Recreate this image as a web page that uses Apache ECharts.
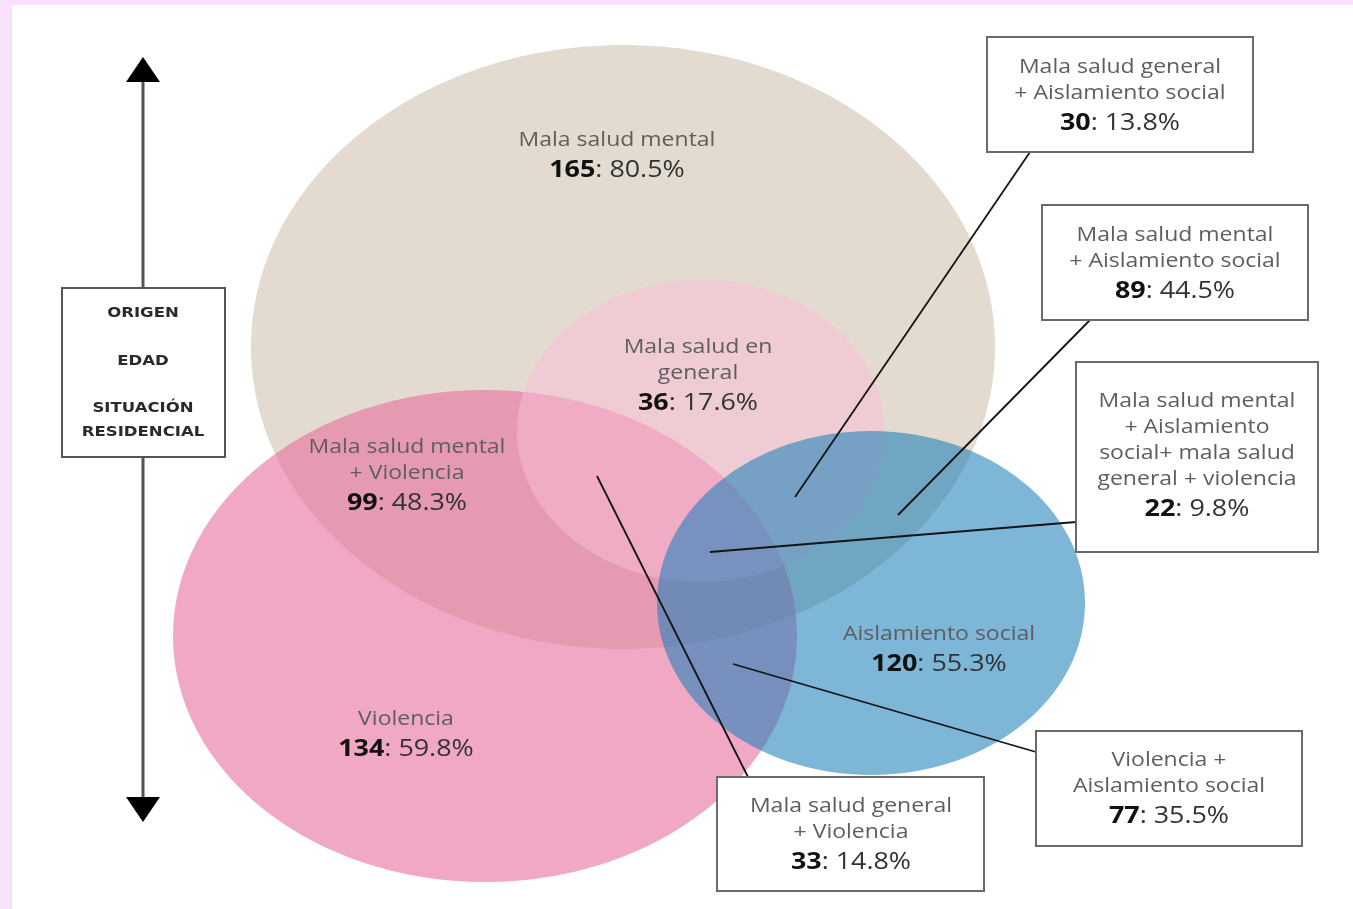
<!DOCTYPE html>
<html>
<head>
<meta charset="utf-8">
<title>Venn salud</title>
<script src="https://cdn.jsdelivr.net/npm/echarts@6/dist/echarts.min.js"></script>
<style>
  html, body { margin: 0; padding: 0; background: #f8e2fb; }
  #chart { width: 1353px; height: 909px; }
</style>
</head>
<body>
<div id="chart"></div>
<script>
// ---- datos ----
const setNames = ['Mala salud mental', 'Violencia', 'Mala salud en\ngeneral', 'Aislamiento social']
const setCounts = [165, 134, 36, 120]
const setPcts = ['80.5', '59.8', '17.6', '55.3']

const overlapNames = [
  'Mala salud mental\n+ Violencia',
  'Mala salud general\n+ Aislamiento social',
  'Mala salud mental\n+ Aislamiento social',
  'Mala salud mental\n+ Aislamiento\nsocial+ mala salud\ngeneral + violencia',
  'Violencia +\nAislamiento social',
  'Mala salud general\n+ Violencia'
]
const overlapCounts = [99, 30, 89, 22, 77, 33]
const overlapPcts = ['48.3', '13.8', '44.5', '9.8', '35.5', '14.8']

const factorLabels = ['ORIGEN', 'EDAD', 'SITUACIÓN\nRESIDENCIAL']

// ---- layout (coordenadas del lienzo, aparte de los datos) ----
// orden de dibujo: mental, violencia, general, aislamiento
const ellipsePos = [[623, 347, 372, 302], [485, 636, 312, 246], [701, 431, 184, 151], [871, 603, 214, 172]]
const ellipseColors = ['#e3dbd0', 'rgba(230,110,158,0.6)', 'rgba(251,189,216,0.5)', 'rgba(27,127,185,0.57)']
const setLabelPos = [[617, 140], [406, 719], [698, 347], [939, 634]]
const overlapLabelPos = [[407, 447], [1120, 67], [1175, 235], [1197, 401], [1169, 760], [851, 806]]
const overlapBoxes = [null, [987, 37, 1253, 152], [1042, 205, 1308, 320], [1076, 362, 1318, 552], [1036, 731, 1302, 846], [717, 777, 984, 891]]
const leaders = [null, [1030, 152, 795, 497], [1090, 320, 898, 515], [1076, 522, 710, 552], [1036, 752, 733, 664], [748, 777, 597, 476]]
const factorBox = [62, 288, 225, 457]
const factorLabelY = [313, 361, 408]

const FONT = '"Open Sans", sans-serif'

function labelChildren(api, pos, name, count, pct) {
  const lines = name.split('\n')
  const out = []
  lines.forEach((ln, k) => {
    const c = api.coord([pos[0], pos[1] + k * 26])
    out.push({
      type: 'text', x: c[0], y: c[1], scaleX: 1.15,
      style: { text: ln, fill: '#5e5e5e', fontSize: 20, fontFamily: FONT, align: 'center', verticalAlign: 'middle' }
    })
  })
  const c = api.coord([pos[0], pos[1] + (lines.length - 1) * 26 + 30])
  out.push({
    type: 'text', x: c[0], y: c[1], scaleX: 1.12,
    style: {
      text: '{b|' + count + '}: ' + pct + '%', fill: '#333', fontSize: 24, fontFamily: FONT,
      align: 'center', verticalAlign: 'middle',
      rich: { b: { fontWeight: 'bold', fill: '#111', fontSize: 24, fontFamily: FONT } }
    }
  })
  return out
}

const chart = echarts.init(document.getElementById('chart'))

chart.setOption({
  animation: false,
  grid: { left: 0, right: 0, top: 0, bottom: 0 },
  xAxis: { type: 'value', min: 0, max: 1353, show: false },
  yAxis: { type: 'value', min: 0, max: 909, inverse: true, show: false },
  graphic: [{
    type: 'rect', z: 0, silent: true,
    shape: { x: 12, y: 5, width: 1341, height: 904 },
    style: { fill: '#ffffff' }
  }],
  series: [
    {
      // círculos
      type: 'custom', z: 2,
      data: setCounts,
      renderItem(params, api) {
        const p = ellipsePos[params.dataIndex]
        const c = api.coord([p[0], p[1]])
        const s = api.size([p[2], p[3]])
        return {
          type: 'ellipse',
          shape: { cx: c[0], cy: c[1], rx: s[0], ry: s[1] },
          style: { fill: ellipseColors[params.dataIndex] }
        }
      }
    },
    {
      // etiquetas dentro de los círculos
      type: 'custom', z: 4,
      data: setCounts,
      renderItem(params, api) {
        const i = params.dataIndex
        return { type: 'group', children: labelChildren(api, setLabelPos[i], setNames[i], setCounts[i], setPcts[i]) }
      }
    },
    {
      // intersecciones: cajas y líneas
      type: 'custom', z: 5,
      data: overlapCounts,
      renderItem(params, api) {
        const i = params.dataIndex
        const children = []
        const b = overlapBoxes[i]
        if (b) {
          const l = leaders[i]
          const a = api.coord([l[0], l[1]])
          const e = api.coord([l[2], l[3]])
          children.push({
            type: 'line', shape: { x1: a[0], y1: a[1], x2: e[0], y2: e[1] },
            style: { stroke: '#141414', lineWidth: 1.8 }
          })
          const p0 = api.coord([b[0], b[1]])
          const p1 = api.coord([b[2], b[3]])
          children.push({
            type: 'rect', shape: { x: p0[0], y: p0[1], width: p1[0] - p0[0], height: p1[1] - p0[1] },
            style: { fill: '#fff', stroke: '#6a6a6a', lineWidth: 2 }
          })
        }
        return { type: 'group', children: children.concat(labelChildren(api, overlapLabelPos[i], overlapNames[i], overlapCounts[i], overlapPcts[i])) }
      }
    },
    {
      // eje de factores a la izquierda
      type: 'custom', z: 5,
      data: [factorLabels.length],
      renderItem(params, api) {
        const top = api.coord([143, 57])
        const bot = api.coord([143, 822])
        const b0 = api.coord([factorBox[0], factorBox[1]])
        const b1 = api.coord([factorBox[2], factorBox[3]])
        const children = [
          { type: 'line', shape: { x1: top[0], y1: top[1] + 20, x2: bot[0], y2: bot[1] - 20 }, style: { stroke: '#555', lineWidth: 3 } },
          { type: 'polygon', shape: { points: [[top[0], top[1]], [top[0] - 17, top[1] + 25], [top[0] + 17, top[1] + 25]] }, style: { fill: '#000' } },
          { type: 'polygon', shape: { points: [[bot[0], bot[1]], [bot[0] - 17, bot[1] - 25], [bot[0] + 17, bot[1] - 25]] }, style: { fill: '#000' } },
          { type: 'rect', shape: { x: b0[0], y: b0[1], width: b1[0] - b0[0], height: b1[1] - b0[1] }, style: { fill: '#fff', stroke: '#555', lineWidth: 2 } }
        ]
        factorLabels.forEach((t, k) => {
          t.split('\n').forEach((ln, j) => {
            const c = api.coord([143, factorLabelY[k] + j * 24])
            children.push({
              type: 'text', x: c[0], y: c[1], scaleX: 1.18,
              style: { text: ln, fill: '#2a2a2a', fontSize: 14, fontWeight: 'bold', fontFamily: '"DejaVu Sans", sans-serif', align: 'center', verticalAlign: 'middle' }
            })
          })
        })
        return { type: 'group', children }
      }
    }
  ]
})
</script>
</body>
</html>
